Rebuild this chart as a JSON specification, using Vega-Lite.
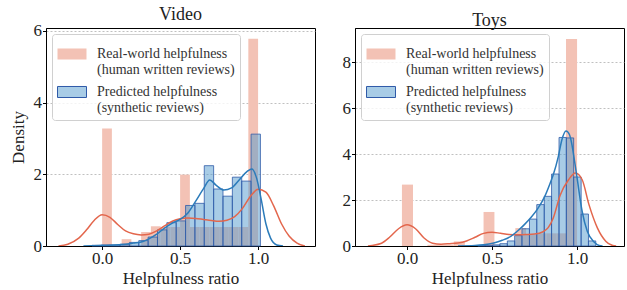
{
  "$schema": "https://vega.github.io/schema/vega-lite/v6.json",
  "padding": {"left": 8, "top": 5, "right": 0, "bottom": 0},
  "background": "white",
  "config": {
    "font": "Liberation Serif",
    "view": {"stroke": "#000", "strokeWidth": 1},
    "axis": {"labelFont": "Liberation Serif", "titleFont": "Liberation Serif", "labelFontSize": 17, "titleFontSize": 17, "labelColor": "#222", "titleColor": "#222", "titleFontWeight": "normal", "domainColor": "#000", "tickColor": "#000", "tickSize": 3.5, "labelPadding": 1, "gridColor": "#b0b0b0", "gridDash": [2, 2], "gridWidth": 0.8},
    "title": {"font": "Liberation Serif", "fontSize": 18, "fontWeight": "normal", "color": "#222", "offset": -2},
    "legend": {"orient": "top-left", "offset": 6, "labelFont": "Liberation Serif", "labelFontSize": 14, "labelColor": "#333", "symbolType": "M-1,-0.38H1V0.38H-1Z", "symbolSize": 841, "symbolStrokeWidth": 1, "labelOffset": 10, "rowPadding": 0, "padding": 5, "fillColor": "rgba(255,255,255,0.8)", "strokeColor": "#d0d0d0", "cornerRadius": 3}
  },
  "datasets": {
    "video_bars": [
      {"series": "Real-world helpfulness (human written reviews)", "x0": 0, "x1": 0.0625, "d": 3.28},
      {"series": "Real-world helpfulness (human written reviews)", "x0": 0.125, "x1": 0.1875, "d": 0.19},
      {"series": "Real-world helpfulness (human written reviews)", "x0": 0.25, "x1": 0.3125, "d": 0.39},
      {"series": "Real-world helpfulness (human written reviews)", "x0": 0.3125, "x1": 0.375, "d": 0.55},
      {"series": "Real-world helpfulness (human written reviews)", "x0": 0.375, "x1": 0.4375, "d": 0.53},
      {"series": "Real-world helpfulness (human written reviews)", "x0": 0.4375, "x1": 0.5, "d": 0.53},
      {"series": "Real-world helpfulness (human written reviews)", "x0": 0.5, "x1": 0.5625, "d": 1.99},
      {"series": "Real-world helpfulness (human written reviews)", "x0": 0.5625, "x1": 0.625, "d": 0.53},
      {"series": "Real-world helpfulness (human written reviews)", "x0": 0.625, "x1": 0.6875, "d": 0.53},
      {"series": "Real-world helpfulness (human written reviews)", "x0": 0.6875, "x1": 0.75, "d": 0.53},
      {"series": "Real-world helpfulness (human written reviews)", "x0": 0.75, "x1": 0.8125, "d": 0.53},
      {"series": "Real-world helpfulness (human written reviews)", "x0": 0.8125, "x1": 0.875, "d": 0.53},
      {"series": "Real-world helpfulness (human written reviews)", "x0": 0.875, "x1": 0.9375, "d": 0.53},
      {"series": "Real-world helpfulness (human written reviews)", "x0": 0.9375, "x1": 1.0, "d": 5.78},
      {"series": "Predicted helpfulness (synthetic reviews)", "x0": -0.065, "x1": -0.005, "d": 0.02},
      {"series": "Predicted helpfulness (synthetic reviews)", "x0": -0.005, "x1": 0.055, "d": 0.03},
      {"series": "Predicted helpfulness (synthetic reviews)", "x0": 0.055, "x1": 0.115, "d": 0.03},
      {"series": "Predicted helpfulness (synthetic reviews)", "x0": 0.115, "x1": 0.175, "d": 0.05},
      {"series": "Predicted helpfulness (synthetic reviews)", "x0": 0.175, "x1": 0.235, "d": 0.1},
      {"series": "Predicted helpfulness (synthetic reviews)", "x0": 0.235, "x1": 0.295, "d": 0.15},
      {"series": "Predicted helpfulness (synthetic reviews)", "x0": 0.295, "x1": 0.355, "d": 0.25},
      {"series": "Predicted helpfulness (synthetic reviews)", "x0": 0.355, "x1": 0.415, "d": 0.45},
      {"series": "Predicted helpfulness (synthetic reviews)", "x0": 0.415, "x1": 0.475, "d": 0.65},
      {"series": "Predicted helpfulness (synthetic reviews)", "x0": 0.475, "x1": 0.535, "d": 0.7},
      {"series": "Predicted helpfulness (synthetic reviews)", "x0": 0.535, "x1": 0.595, "d": 1.13},
      {"series": "Predicted helpfulness (synthetic reviews)", "x0": 0.595, "x1": 0.655, "d": 1.19},
      {"series": "Predicted helpfulness (synthetic reviews)", "x0": 0.655, "x1": 0.715, "d": 2.24},
      {"series": "Predicted helpfulness (synthetic reviews)", "x0": 0.715, "x1": 0.775, "d": 1.59},
      {"series": "Predicted helpfulness (synthetic reviews)", "x0": 0.775, "x1": 0.835, "d": 1.39},
      {"series": "Predicted helpfulness (synthetic reviews)", "x0": 0.835, "x1": 0.895, "d": 1.92},
      {"series": "Predicted helpfulness (synthetic reviews)", "x0": 0.895, "x1": 0.955, "d": 1.81},
      {"series": "Predicted helpfulness (synthetic reviews)", "x0": 0.955, "x1": 1.015, "d": 3.12}
    ],
    "video_kde": [
      {"s": "real", "x0": -0.28, "d": 0}, {"s": "real", "x0": -0.22, "d": 0.05}, {"s": "real", "x0": -0.15, "d": 0.22}, {"s": "real", "x0": -0.1, "d": 0.45}, {"s": "real", "x0": -0.05, "d": 0.72}, {"s": "real", "x0": 0, "d": 0.87}, {"s": "real", "x0": 0.05, "d": 0.8}, {"s": "real", "x0": 0.1, "d": 0.6}, {"s": "real", "x0": 0.15, "d": 0.42}, {"s": "real", "x0": 0.2, "d": 0.34}, {"s": "real", "x0": 0.25, "d": 0.31}, {"s": "real", "x0": 0.3, "d": 0.33}, {"s": "real", "x0": 0.35, "d": 0.42}, {"s": "real", "x0": 0.4, "d": 0.56}, {"s": "real", "x0": 0.45, "d": 0.69}, {"s": "real", "x0": 0.5, "d": 0.76}, {"s": "real", "x0": 0.55, "d": 0.78}, {"s": "real", "x0": 0.6, "d": 0.77}, {"s": "real", "x0": 0.65, "d": 0.74}, {"s": "real", "x0": 0.7, "d": 0.71}, {"s": "real", "x0": 0.75, "d": 0.69}, {"s": "real", "x0": 0.8, "d": 0.72}, {"s": "real", "x0": 0.85, "d": 0.82}, {"s": "real", "x0": 0.9, "d": 1.05}, {"s": "real", "x0": 0.95, "d": 1.38}, {"s": "real", "x0": 1.0, "d": 1.58}, {"s": "real", "x0": 1.05, "d": 1.5}, {"s": "real", "x0": 1.1, "d": 1.12}, {"s": "real", "x0": 1.15, "d": 0.62}, {"s": "real", "x0": 1.2, "d": 0.27}, {"s": "real", "x0": 1.25, "d": 0.08}, {"s": "real", "x0": 1.3, "d": 0},
      {"s": "pred", "x0": -0.12, "d": 0}, {"s": "pred", "x0": -0.05, "d": 0.01}, {"s": "pred", "x0": 0.05, "d": 0.02}, {"s": "pred", "x0": 0.15, "d": 0.05}, {"s": "pred", "x0": 0.2, "d": 0.08}, {"s": "pred", "x0": 0.25, "d": 0.11}, {"s": "pred", "x0": 0.3, "d": 0.2}, {"s": "pred", "x0": 0.35, "d": 0.33}, {"s": "pred", "x0": 0.4, "d": 0.5}, {"s": "pred", "x0": 0.45, "d": 0.64}, {"s": "pred", "x0": 0.5, "d": 0.74}, {"s": "pred", "x0": 0.55, "d": 0.92}, {"s": "pred", "x0": 0.6, "d": 1.25}, {"s": "pred", "x0": 0.65, "d": 1.6}, {"s": "pred", "x0": 0.69, "d": 1.84}, {"s": "pred", "x0": 0.73, "d": 1.7}, {"s": "pred", "x0": 0.78, "d": 1.56}, {"s": "pred", "x0": 0.83, "d": 1.62}, {"s": "pred", "x0": 0.88, "d": 1.85}, {"s": "pred", "x0": 0.93, "d": 2.08}, {"s": "pred", "x0": 0.96, "d": 2.15}, {"s": "pred", "x0": 0.99, "d": 1.9}, {"s": "pred", "x0": 1.02, "d": 1.3}, {"s": "pred", "x0": 1.05, "d": 0.62}, {"s": "pred", "x0": 1.08, "d": 0.22}, {"s": "pred", "x0": 1.12, "d": 0.03}, {"s": "pred", "x0": 1.16, "d": 0}
    ],
    "toys_bars": [
      {"series": "Real-world helpfulness (human written reviews)", "x0": -0.03, "x1": 0.035, "d": 2.67},
      {"series": "Real-world helpfulness (human written reviews)", "x0": 0.12, "x1": 0.275, "d": 0.05},
      {"series": "Real-world helpfulness (human written reviews)", "x0": 0.275, "x1": 0.34, "d": 0.2},
      {"series": "Real-world helpfulness (human written reviews)", "x0": 0.45, "x1": 0.514, "d": 1.48},
      {"series": "Real-world helpfulness (human written reviews)", "x0": 0.637, "x1": 0.7, "d": 0.78},
      {"series": "Real-world helpfulness (human written reviews)", "x0": 0.7, "x1": 0.76, "d": 0.5},
      {"series": "Real-world helpfulness (human written reviews)", "x0": 0.76, "x1": 0.82, "d": 0.55},
      {"series": "Real-world helpfulness (human written reviews)", "x0": 0.82, "x1": 0.88, "d": 0.55},
      {"series": "Real-world helpfulness (human written reviews)", "x0": 0.88, "x1": 0.935, "d": 0.55},
      {"series": "Real-world helpfulness (human written reviews)", "x0": 0.935, "x1": 1.0, "d": 9.0},
      {"series": "Predicted helpfulness (synthetic reviews)", "x0": 0.416, "x1": 0.46, "d": 0.02},
      {"series": "Predicted helpfulness (synthetic reviews)", "x0": 0.46, "x1": 0.503, "d": 0.03},
      {"series": "Predicted helpfulness (synthetic reviews)", "x0": 0.503, "x1": 0.546, "d": 0.05},
      {"series": "Predicted helpfulness (synthetic reviews)", "x0": 0.546, "x1": 0.59, "d": 0.1},
      {"series": "Predicted helpfulness (synthetic reviews)", "x0": 0.59, "x1": 0.633, "d": 0.22},
      {"series": "Predicted helpfulness (synthetic reviews)", "x0": 0.633, "x1": 0.676, "d": 0.45},
      {"series": "Predicted helpfulness (synthetic reviews)", "x0": 0.676, "x1": 0.72, "d": 0.75},
      {"series": "Predicted helpfulness (synthetic reviews)", "x0": 0.72, "x1": 0.763, "d": 1.17},
      {"series": "Predicted helpfulness (synthetic reviews)", "x0": 0.763, "x1": 0.807, "d": 1.8},
      {"series": "Predicted helpfulness (synthetic reviews)", "x0": 0.807, "x1": 0.85, "d": 2.16},
      {"series": "Predicted helpfulness (synthetic reviews)", "x0": 0.85, "x1": 0.894, "d": 3.13},
      {"series": "Predicted helpfulness (synthetic reviews)", "x0": 0.894, "x1": 0.937, "d": 4.72},
      {"series": "Predicted helpfulness (synthetic reviews)", "x0": 0.937, "x1": 0.98, "d": 4.7},
      {"series": "Predicted helpfulness (synthetic reviews)", "x0": 0.98, "x1": 1.024, "d": 3.0},
      {"series": "Predicted helpfulness (synthetic reviews)", "x0": 1.024, "x1": 1.067, "d": 1.39},
      {"series": "Predicted helpfulness (synthetic reviews)", "x0": 1.067, "x1": 1.11, "d": 0.22}
    ],
    "toys_kde": [
      {"s": "real", "x0": -0.23, "d": 0}, {"s": "real", "x0": -0.15, "d": 0.12}, {"s": "real", "x0": -0.1, "d": 0.4}, {"s": "real", "x0": -0.05, "d": 0.75}, {"s": "real", "x0": 0, "d": 0.92}, {"s": "real", "x0": 0.05, "d": 0.75}, {"s": "real", "x0": 0.1, "d": 0.35}, {"s": "real", "x0": 0.15, "d": 0.12}, {"s": "real", "x0": 0.2, "d": 0.08}, {"s": "real", "x0": 0.25, "d": 0.1}, {"s": "real", "x0": 0.3, "d": 0.13}, {"s": "real", "x0": 0.35, "d": 0.22}, {"s": "real", "x0": 0.4, "d": 0.38}, {"s": "real", "x0": 0.45, "d": 0.55}, {"s": "real", "x0": 0.5, "d": 0.6}, {"s": "real", "x0": 0.55, "d": 0.55}, {"s": "real", "x0": 0.6, "d": 0.5}, {"s": "real", "x0": 0.65, "d": 0.49}, {"s": "real", "x0": 0.7, "d": 0.5}, {"s": "real", "x0": 0.75, "d": 0.52}, {"s": "real", "x0": 0.8, "d": 0.62}, {"s": "real", "x0": 0.83, "d": 0.8}, {"s": "real", "x0": 0.86, "d": 1.22}, {"s": "real", "x0": 0.9, "d": 2.2}, {"s": "real", "x0": 0.95, "d": 2.88}, {"s": "real", "x0": 0.99, "d": 3.17}, {"s": "real", "x0": 1.03, "d": 2.88}, {"s": "real", "x0": 1.07, "d": 1.8}, {"s": "real", "x0": 1.12, "d": 0.78}, {"s": "real", "x0": 1.17, "d": 0.2}, {"s": "real", "x0": 1.21, "d": 0.02}, {"s": "real", "x0": 1.23, "d": 0},
      {"s": "pred", "x0": 0.3, "d": 0}, {"s": "pred", "x0": 0.4, "d": 0.02}, {"s": "pred", "x0": 0.45, "d": 0.05}, {"s": "pred", "x0": 0.51, "d": 0.13}, {"s": "pred", "x0": 0.56, "d": 0.25}, {"s": "pred", "x0": 0.61, "d": 0.42}, {"s": "pred", "x0": 0.65, "d": 0.65}, {"s": "pred", "x0": 0.69, "d": 0.93}, {"s": "pred", "x0": 0.73, "d": 1.25}, {"s": "pred", "x0": 0.765, "d": 1.58}, {"s": "pred", "x0": 0.81, "d": 2.16}, {"s": "pred", "x0": 0.84, "d": 2.7}, {"s": "pred", "x0": 0.86, "d": 3.1}, {"s": "pred", "x0": 0.89, "d": 3.9}, {"s": "pred", "x0": 0.91, "d": 4.6}, {"s": "pred", "x0": 0.935, "d": 5.0}, {"s": "pred", "x0": 0.955, "d": 4.85}, {"s": "pred", "x0": 0.97, "d": 4.4}, {"s": "pred", "x0": 0.985, "d": 3.7}, {"s": "pred", "x0": 1.0, "d": 2.96}, {"s": "pred", "x0": 1.03, "d": 1.5}, {"s": "pred", "x0": 1.06, "d": 0.64}, {"s": "pred", "x0": 1.1, "d": 0.17}, {"s": "pred", "x0": 1.13, "d": 0.02}, {"s": "pred", "x0": 1.15, "d": 0}
    ]
  },
  "hconcat": [
    {
      "title": "Video",
      "width": 269,
      "height": 218,
      "encoding": {
        "x": {"field": "x0", "type": "quantitative", "scale": {"domain": [-0.36, 1.365], "nice": false, "zero": false}, "axis": {"values": [0, 0.5, 1], "format": ".1f", "title": "Helpfulness ratio", "grid": false}},
        "y": {"field": "d", "type": "quantitative", "scale": {"domain": [0, 6.08], "nice": false}, "axis": {"values": [0, 2, 4, 6], "format": "d", "title": "Density", "grid": true, "titlePadding": 6}}
      },
      "layer": [
        {
          "data": {"name": "video_bars"},
          "transform": [{"filter": "indexof(datum.series, 'Real') == 0"}],
          "mark": {"type": "rect", "strokeWidth": 0.8},
          "encoding": {
            "x2": {"field": "x1"},
            "y2": {"datum": 0},
            "color": {"field": "series", "type": "nominal", "scale": {"domain": ["Real-world helpfulness (human written reviews)", "Predicted helpfulness (synthetic reviews)"], "range": ["#f3c2b5", "rgba(81,153,205,0.5)"]}, "legend": {"title": null, "labelExpr": "[slice(datum.label, 0, indexof(datum.label, ' (')), slice(datum.label, indexof(datum.label, ' (') + 1)]"}},
            "stroke": {"field": "series", "type": "nominal", "scale": {"domain": ["Real-world helpfulness (human written reviews)", "Predicted helpfulness (synthetic reviews)"], "range": ["rgba(0,0,0,0)", "#2f5aa8"]}, "legend": {"title": null, "labelExpr": "[slice(datum.label, 0, indexof(datum.label, ' (')), slice(datum.label, indexof(datum.label, ' (') + 1)]"}}
          }
        },
        {
          "data": {"name": "video_bars"},
          "transform": [{"filter": "indexof(datum.series, 'Pred') == 0"}],
          "mark": {"type": "rect", "strokeWidth": 0.8},
          "encoding": {
            "x2": {"field": "x1"},
            "y2": {"datum": 0},
            "color": {"field": "series", "type": "nominal"},
            "stroke": {"field": "series", "type": "nominal"}
          }
        },
        {
          "data": {"name": "video_kde"},
          "transform": [{"filter": "datum.s == 'real'"}],
          "mark": {"type": "line", "color": "#e3664c", "strokeWidth": 1.5, "interpolate": "monotone", "clip": true}
        },
        {
          "data": {"name": "video_kde"},
          "transform": [{"filter": "datum.s == 'pred'"}],
          "mark": {"type": "line", "color": "#2b7bba", "strokeWidth": 1.5, "interpolate": "monotone", "clip": true}
        }
      ]
    },
    {
      "title": "Toys",
      "width": 269,
      "height": 218,
      "encoding": {
        "x": {"field": "x0", "type": "quantitative", "scale": {"domain": [-0.306, 1.276], "nice": false, "zero": false}, "axis": {"values": [0, 0.5, 1], "format": ".1f", "title": "Helpfulness ratio", "grid": false}},
        "y": {"field": "d", "type": "quantitative", "scale": {"domain": [0, 9.48], "nice": false}, "axis": {"values": [0, 2, 4, 6, 8], "format": "d", "title": null, "grid": true}}
      },
      "layer": [
        {
          "data": {"name": "toys_bars"},
          "transform": [{"filter": "indexof(datum.series, 'Real') == 0"}],
          "mark": {"type": "rect", "strokeWidth": 0.8},
          "encoding": {
            "x2": {"field": "x1"},
            "y2": {"datum": 0},
            "color": {"field": "series", "type": "nominal", "scale": {"domain": ["Real-world helpfulness (human written reviews)", "Predicted helpfulness (synthetic reviews)"], "range": ["#f3c2b5", "rgba(81,153,205,0.5)"]}, "legend": {"title": null, "labelExpr": "[slice(datum.label, 0, indexof(datum.label, ' (')), slice(datum.label, indexof(datum.label, ' (') + 1)]"}},
            "stroke": {"field": "series", "type": "nominal", "scale": {"domain": ["Real-world helpfulness (human written reviews)", "Predicted helpfulness (synthetic reviews)"], "range": ["rgba(0,0,0,0)", "#2f5aa8"]}, "legend": {"title": null, "labelExpr": "[slice(datum.label, 0, indexof(datum.label, ' (')), slice(datum.label, indexof(datum.label, ' (') + 1)]"}}
          }
        },
        {
          "data": {"name": "toys_bars"},
          "transform": [{"filter": "indexof(datum.series, 'Pred') == 0"}],
          "mark": {"type": "rect", "strokeWidth": 0.8},
          "encoding": {
            "x2": {"field": "x1"},
            "y2": {"datum": 0},
            "color": {"field": "series", "type": "nominal"},
            "stroke": {"field": "series", "type": "nominal"}
          }
        },
        {
          "data": {"name": "toys_kde"},
          "transform": [{"filter": "datum.s == 'real'"}],
          "mark": {"type": "line", "color": "#e3664c", "strokeWidth": 1.5, "interpolate": "monotone", "clip": true}
        },
        {
          "data": {"name": "toys_kde"},
          "transform": [{"filter": "datum.s == 'pred'"}],
          "mark": {"type": "line", "color": "#2b7bba", "strokeWidth": 1.5, "interpolate": "monotone", "clip": true}
        }
      ]
    }
  ],
  "spacing": 25,
  "resolve": {"scale": {"x": "independent", "y": "independent", "color": "independent", "stroke": "independent"}, "legend": {"color": "independent", "stroke": "independent"}}
}
